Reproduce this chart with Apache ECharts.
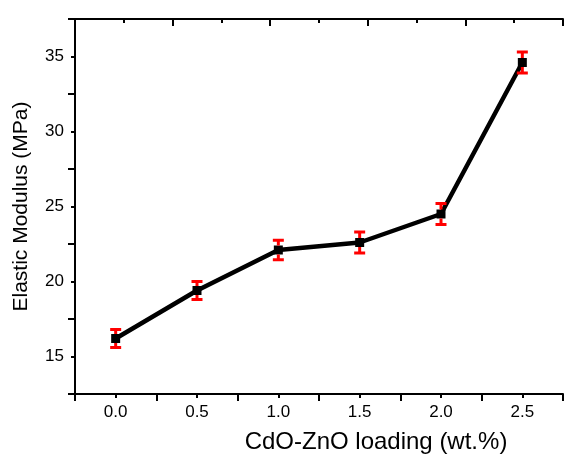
<!DOCTYPE html>
<html>
<head>
<meta charset="utf-8">
<script src="https://cdn.jsdelivr.net/npm/echarts@6/dist/echarts.min.js"></script>
<style>
  html, body { margin: 0; padding: 0; background: #fff; }
  #chart { width: 566px; height: 457px; }
</style>
</head>
<body>
<div id="chart"></div>
<script>
// Elastic modulus vs. CdO-ZnO loading, with error bars
const loading = [0.0, 0.5, 1.0, 1.5, 2.0, 2.5];
const modulus = [16.2, 19.4, 22.1, 22.6, 24.5, 34.6];
const modulusErr = [0.6, 0.6, 0.65, 0.7, 0.7, 0.7];
const xTitle = 'CdO-ZnO loading (wt.%)';
const yTitle = 'Elastic Modulus (MPa)';

const FONT = '"Liberation Sans", Arial, sans-serif';
const points = loading.map((x, i) => [x, modulus[i]]);
const errData = loading.map((x, i) => [x, modulus[i] - modulusErr[i], modulus[i] + modulusErr[i], modulus[i]]);

const axisLine = { show: true, onZero: false, lineStyle: { color: '#000', width: 2 } };
const tickStyle = { color: '#000', width: 2 };

const chart = echarts.init(document.getElementById('chart'), null, { renderer: 'canvas' });

chart.setOption({
  animation: false,
  backgroundColor: '#fff',
  grid: { left: 75, top: 19, right: -9, bottom: 63, containLabel: false },
  xAxis: [
    { // main bottom axis, minor ticks every 0.25 and labels at each 0.5
      type: 'value', position: 'bottom', min: -0.25, max: 2.75, interval: 0.25,
      axisLine: axisLine,
      axisTick: { show: true, length: 4, lineStyle: tickStyle },
      axisLabel: {
        show: true, margin: 10, color: '#000', fontFamily: FONT, fontSize: 17,
        formatter: v => (Math.abs(v * 2 - Math.round(v * 2)) < 1e-6 && v >= 0 && v <= 2.5) ? v.toFixed(1) : ''
      },
      splitLine: { show: false }
    },
    { // longer major ticks on the bottom axis
      type: 'value', position: 'bottom', min: -0.25, max: 2.75, interval: 0.5,
      axisLine: { show: false, onZero: false },
      axisTick: { show: true, length: 7, lineStyle: tickStyle },
      axisLabel: { show: false },
      splitLine: { show: false }
    },
    { // top frame axis
      type: 'value', position: 'top', min: 0, max: 5, interval: 1,
      axisLine: axisLine,
      axisTick: { show: true, inside: true, length: 7, lineStyle: tickStyle },
      minorTick: { show: true, splitNumber: 2, length: 4, lineStyle: tickStyle },
      axisLabel: { show: false },
      splitLine: { show: false }
    }
  ],
  yAxis: [
    {
      type: 'value', position: 'left', min: 12.5, max: 37.5, interval: 2.5,
      axisLine: axisLine,
      axisTick: { show: true, length: 4, lineStyle: tickStyle },
      axisLabel: {
        show: true, margin: 11, color: '#000', fontFamily: FONT, fontSize: 17,
        formatter: v => (v % 5 === 0) ? String(v) : ''
      },
      splitLine: { show: false },
      name: yTitle, nameLocation: 'middle', nameGap: 43,
      nameTextStyle: { color: '#000', fontFamily: FONT, fontSize: 21 }
    },
    {
      type: 'value', position: 'left', min: 12.5, max: 37.5, interval: 5,
      axisLine: { show: false, onZero: false },
      axisTick: { show: true, length: 7, lineStyle: tickStyle },
      axisLabel: { show: false },
      splitLine: { show: false }
    }
  ],
  graphic: [{
    type: 'text', x: 376, y: 442,
    style: { text: xTitle, fill: '#000', font: '24px ' + FONT, textAlign: 'center', textVerticalAlign: 'middle' }
  }],
  series: [
    {
      type: 'line', xAxisIndex: 0, yAxisIndex: 0, data: points, z: 2,
      lineStyle: { color: '#000', width: 4.5 },
      symbol: 'rect', symbolSize: 9,
      itemStyle: { color: '#000' }
    },
    {
      type: 'custom', xAxisIndex: 0, yAxisIndex: 0, data: errData, z: 3,
      renderItem: function (params, api) {
        const x = api.value(0);
        const lo = api.coord([x, api.value(1)]);
        const hi = api.coord([x, api.value(2)]);
        const mid = api.coord([x, api.value(3)]);
        const cap = 5.5;
        const gap = 4.5;
        const style = { stroke: '#ff0000', lineWidth: 3 };
        return {
          type: 'group',
          children: [
            { type: 'line', shape: { x1: hi[0], y1: hi[1], x2: hi[0], y2: mid[1] - gap }, style: style },
            { type: 'line', shape: { x1: lo[0], y1: lo[1], x2: lo[0], y2: mid[1] + gap }, style: style },
            { type: 'line', shape: { x1: hi[0] - cap, y1: hi[1], x2: hi[0] + cap, y2: hi[1] }, style: style },
            { type: 'line', shape: { x1: lo[0] - cap, y1: lo[1], x2: lo[0] + cap, y2: lo[1] }, style: style }
          ]
        };
      }
    }
  ]
});
</script>
</body>
</html>
